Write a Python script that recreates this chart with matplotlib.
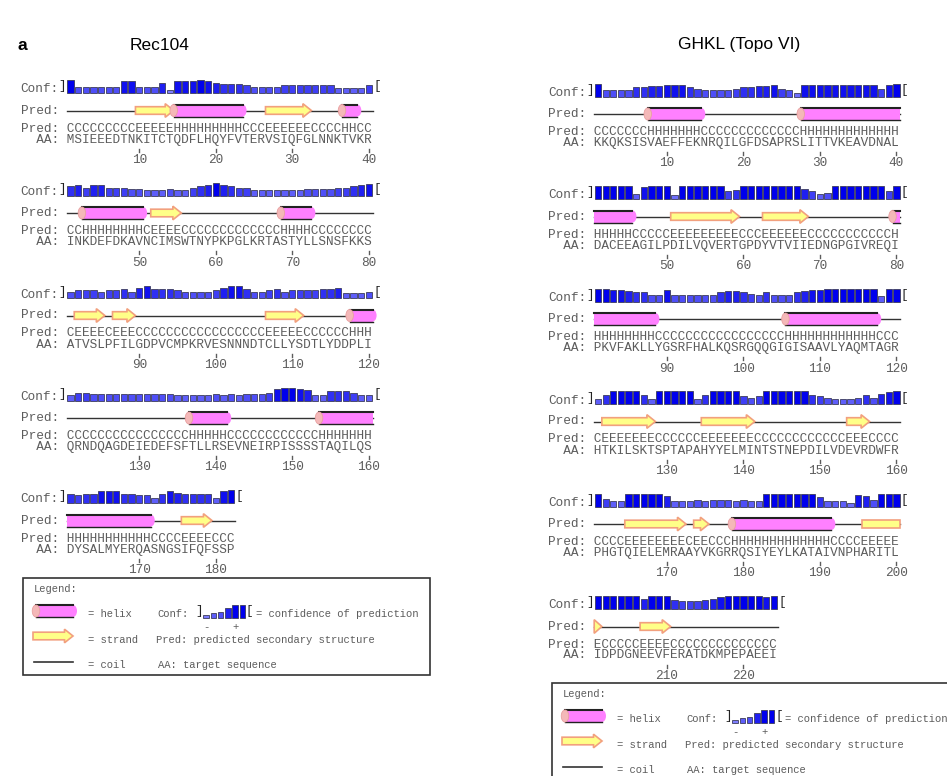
import numpy as np
import matplotlib
matplotlib.use("Agg")
import matplotlib.pyplot as plt
from matplotlib.patches import Rectangle, Ellipse, Polygon

# PSIPRED output, 40 residues per row (spaces only group the text by tens)
rec104_aa = [
    "MSIEEEDTNK ITCTQDFLHQ YFVTERVSIQ FGLNNKTVKR",
    "INKDEFDKAV NCIMSWTNYP KPGLKRTAST YLLSNSFKKS",
    "ATVSLPFILG DPVCMPKRVE SNNNDTCLLY SDTLYDDPLI",
    "QRNDQAGDEI EDEFSFTLLR SEVNEIRPIS SSSTAQILQS",
    "DYSALMYERQ ASNGSIFQFS SP",
]
rec104_ss = [
    "CCCCCCCCCE EEEEHHHHHH HHHCCCEEEE EECCCCHHCC",
    "CCHHHHHHHH CEEEECCCCC CCCCCCCCHH HHCCCCCCCC",
    "CEEEECEEEC CCCCCCCCCC CCCCCCEEEE ECCCCCCHHH",
    "CCCCCCCCCC CCCCCCHHHH HCCCCCCCCC CCCHHHHHHH",
    "HHHHHHHHHH HCCCCEEEEC CC",
]
rec104_conf = [
    "9444444884 4471888987 6665444455 5555533335",
    "6757755544 3334335679 7655333333 3444455678",
    "4555455647 8666544445 7886445645 5556673334",
    "3554444444 4444333334 3434445899 8733666533",
    "6566888665 5368766663 89",
]

ghkl_aa = [
    "KKQKSISVAE FFEKNRQILG FDSAPRSLIT TVKEAVDNAL",
    "DACEEAGILP DILVQVERTG PDYVTVIIED NGPGIVREQI",
    "PKVFAKLLYG SRFHALKQSR GQQGIGISAA VLYAQMTAGR",
    "HTKILSKTSP TAPAHYYELM INTSTNEPDI LVDEVRDWFR",
    "PHGTQIELEM RAAYVKGRRQ SIYEYLKATA IVNPHARITL",
    "IDPDGNEEVF ERATDKMPEP AEEI",
]
ghkl_ss = [
    "CCCCCCCHHH HHHHCCCCCC CCCCCCCHHH HHHHHHHHHH",
    "HHHHHCCCCC EEEEEEEEEC CCEEEEEECC CCCCCCCCCH",
    "HHHHHHHHCC CCCCCCCCCC CCCCCHHHHH HHHHHHHCCC",
    "CEEEEEEECC CCCCEEEEEE ECCCCCCCCC CCCEEECCCC",
    "CCCCEEEEEE EECEECCCHH HHHHHHHHHH HCCCCEEEEE",
    "ECCCCCEEEE CCCCCCCCCC CCCC",
]
ghkl_conf = [
    "9444466778 8865444456 6778542888 8888888589",
    "9999938999 2999999569 9999999753 4999999959",
    "9988766448 4444446776 5464446788 9999999399",
    "3699996399 9993699995 4599999965 4333464789",
    "9533999997 3334344434 3399999996 3332874999",
    "9999997999 6555678999 9989",
]

legend_conf = [1, 3, 4, 7, 9, 9]

CW = 7.65          # one residue column, px
MONO = "Liberation Mono"
FS = CW * 1.2      # mono size whose advance is CW
LFS = 7.6
GREY = "#5c5c5c"
PINK = "#ff80ff"
STEP = 102.5

fig = plt.figure(figsize=(9.47, 7.76), dpi=100)
ax = fig.add_axes([0, 0, 1, 1])
ax.set_xlim(0, 947)
ax.set_ylim(776, 0)
ax.axis("off")


def clean(rows):
    return [r.replace(" ", "") for r in rows]


def conf_bars(x, base, vals, width):
    vals = np.asarray(vals, dtype=float)
    lo = np.array([0.55, 0.55, 1.0])
    hi = np.array([0.0, 0.0, 0.93])
    cols = [tuple(lo + (hi - lo) * v / 9.0) for v in vals]
    ax.bar(x, -1.3 * (vals + 1), bottom=base, width=width, color=cols,
           edgecolor="#3c3c5c", linewidth=0.6, zorder=3)


def bracket(x, y, s, ha):
    ax.text(x, y, s, family=MONO, fontsize=9, color="#222222", ha=ha, va="center")


def helix(xa, xb, y, cap_left=True, round_right=True, h=12):
    ax.add_patch(Rectangle((xa, y - h / 2), xb - xa, h, facecolor=PINK,
                           edgecolor="none", zorder=2))
    if round_right:
        ax.add_patch(Ellipse((xb, y), 8, h, facecolor=PINK, edgecolor="none", zorder=2))
    ax.plot([xa, xb], [y - h / 2, y - h / 2], color="#222222", lw=1.5, zorder=3)
    ax.plot([xa, xb], [y + h / 2, y + h / 2], color="#222222", lw=1.0, zorder=3)
    if cap_left:
        ax.add_patch(Ellipse((xa, y), 7.5, h, facecolor="#f4b8b8", edgecolor="#e8a0a0",
                             lw=0.6, zorder=4))


def strand(xa, xb, y, head=True):
    bh, hh = 3.8, 6.8
    if head:
        hl = min(8.5, xb - xa)
        pts = [(xa, y - bh), (xb - hl, y - bh), (xb - hl, y - hh), (xb, y),
               (xb - hl, y + hh), (xb - hl, y + bh), (xa, y + bh)]
    else:
        pts = [(xa, y - bh), (xb, y - bh), (xb, y + bh), (xa, y + bh)]
    ax.add_patch(Polygon(pts, closed=True, facecolor="#ffff88", edgecolor="#f2a07e",
                         lw=1.2, zorder=2, joinstyle="miter"))


def runs(ss):
    out, s = [], 0
    for i in range(1, len(ss) + 1):
        if i == len(ss) or ss[i] != ss[s]:
            out.append((ss[s], s, i))
            s = i
    return out


def draw_panel(aa_rows, ss_rows, conf_rows, lx, c0):
    aa_rows, ss_rows, conf_rows = clean(aa_rows), clean(ss_rows), clean(conf_rows)
    kw = dict(family=MONO, fontsize=FS, color=GREY, va="center", ha="left")
    x0 = lx + 6 * CW
    segs = runs("".join(ss_rows))
    pos = 0
    for k, (aa, ss, cf) in enumerate(zip(aa_rows, ss_rows, conf_rows)):
        assert len(aa) == len(ss) == len(cf), (k, len(aa), len(ss), len(cf))
        m = len(aa)
        c = c0 + STEP * k
        xc = x0 + (np.arange(m) + 0.5) * CW

        # confidence row
        ax.text(lx, c + 3, "Conf:", **kw)
        conf_bars(xc, c + 6.5, [int(v) for v in cf], CW * 0.82)
        bracket(x0 - 0.5, c, "]", "right")
        bracket(x0 + m * CW + 0.5, c, "[", "left")

        # cartoon row
        py = c + 24
        ax.text(lx, py, "Pred:", **kw)
        ax.plot([x0, x0 + m * CW], [py, py], color="#333333", lw=1, zorder=1)
        for t, s, e in segs:
            ps, pe = max(s, pos), min(e, pos + m)
            if ps >= pe or t == "C":
                continue
            xa = x0 + (ps - pos) * CW
            xb = x0 + (pe - pos) * CW
            if t == "H":
                helix(xa, xb, py, cap_left=s >= pos, round_right=e <= pos + m)
            else:
                strand(xa, xb, py, head=e <= pos + m)

        ax.text(lx, c + 42, "Pred: " + ss, **kw)
        ax.text(lx, c + 53, "  AA: " + aa, **kw)

        for i in range(m):
            num = pos + i + 1
            if num % 10 == 0:
                ax.plot([xc[i], xc[i]], [c + 62, c + 65], color=GREY, lw=1)
                ax.text(xc[i], c + 73.5, str(num), family=MONO, fontsize=FS,
                        color=GREY, ha="center", va="center")
        pos += m


def draw_legend(bx, by):
    ax.add_patch(Rectangle((bx, by), 407, 97, facecolor="white",
                           edgecolor="#333333", lw=1.2, zorder=1))
    kw = dict(family=MONO, fontsize=LFS, color=GREY, va="center", ha="left")
    ax.text(bx + 11, by + 11, "Legend:", **kw)

    helix(bx + 13, bx + 50, by + 33)
    ax.text(bx + 65, by + 36, "= helix", **kw)
    ax.text(bx + 134, by + 36, "Conf:", **kw)
    lxs = bx + 183 + 7.3 * np.arange(len(legend_conf))
    conf_bars(lxs, by + 40, legend_conf, 5.5)
    bracket(lxs[0] - 3.5, by + 33, "]", "right")
    bracket(lxs[-1] + 3.5, by + 33, "[", "left")
    ax.text(lxs[0], by + 49, "-", family=MONO, fontsize=LFS, color=GREY,
            ha="center", va="center")
    ax.text(lxs[4], by + 49, "+", family=MONO, fontsize=LFS, color=GREY,
            ha="center", va="center")
    ax.text(bx + 233, by + 36, "= confidence of prediction", **kw)

    strand(bx + 10, bx + 50, by + 58)
    ax.text(bx + 65, by + 62, "= strand", **kw)
    ax.text(bx + 133, by + 62, "Pred: predicted secondary structure", **kw)

    ax.plot([bx + 11, bx + 50], [by + 84, by + 84], color="#333333", lw=1.2)
    ax.text(bx + 65, by + 87, "= coil", **kw)
    ax.text(bx + 135, by + 87, "AA: target sequence", **kw)


# panel titles
ax.text(18, 45, "a", family="Liberation Sans", fontweight="bold", fontsize=12.5,
        va="center", ha="left")
ax.text(160, 45, "Rec104", family="Liberation Sans", fontsize=12.5,
        va="center", ha="center")
ax.text(739, 45, "GHKL (Topo VI)", family="Liberation Sans", fontsize=12.5,
        va="center", ha="center")

draw_panel(rec104_aa, rec104_ss, rec104_conf, lx=20.7, c0=86.5)
draw_panel(ghkl_aa, ghkl_ss, ghkl_conf, lx=548.3, c0=90)

draw_legend(23, 578)
draw_legend(552, 683)

fig.savefig("out.png", dpi=100, facecolor="white")
